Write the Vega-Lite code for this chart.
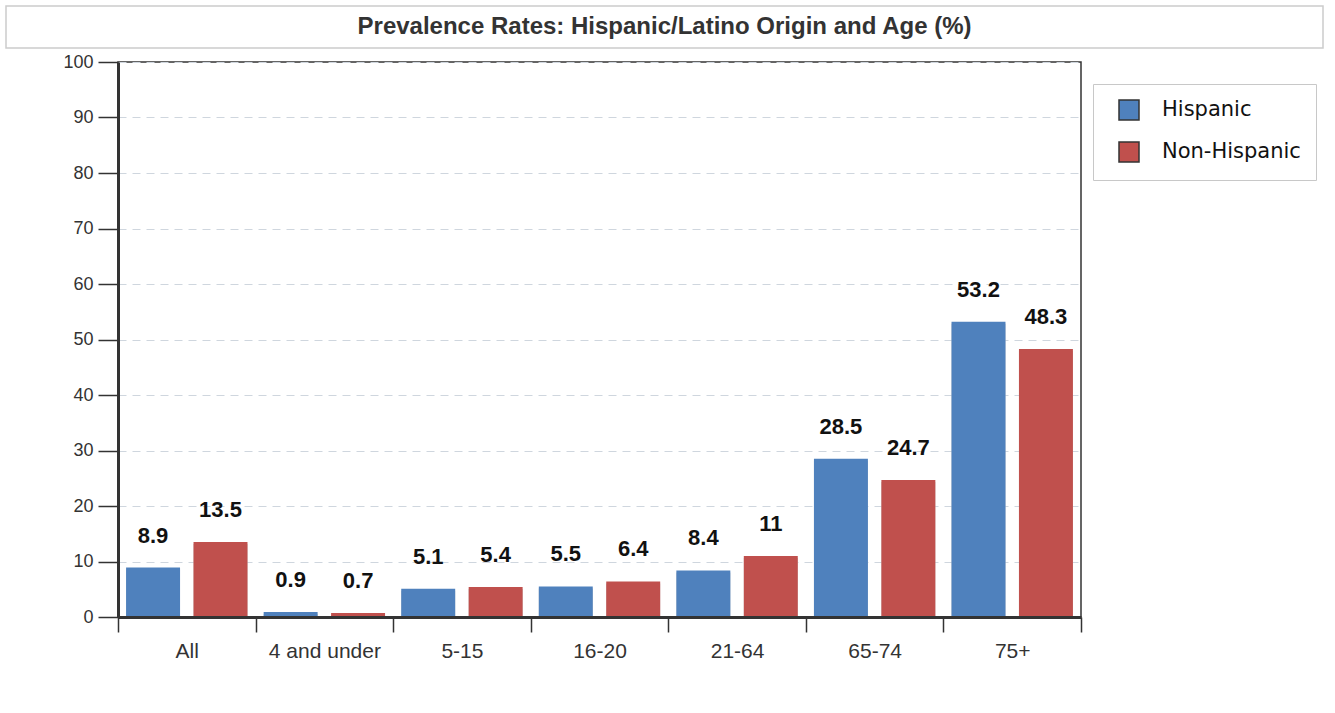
{
  "$schema": "https://vega.github.io/schema/vega-lite/v6.json",
  "padding": {"left": 5, "top": 5, "right": 0, "bottom": 0},
  "background": "white",
  "config": {
    "font": "Liberation Sans"
  },
  "spacing": 14,
  "bounds": "flush",
  "vconcat": [
    {
      "width": 1317,
      "height": 42,
      "data": {"values": [{"title": "Prevalence Rates: Hispanic/Latino Origin and Age (%)"}]},
      "view": {"stroke": "#cccccc", "strokeWidth": 1.5, "fill": "white"},
      "mark": {"type": "text", "font": "Liberation Sans", "fontWeight": "bold", "fontSize": 24, "color": "#333333", "align": "center", "baseline": "middle"},
      "encoding": {"text": {"field": "title"}}
    },
    {
      "spacing": 12,
      "bounds": "flush",
      "hconcat": [
        {
          "width": 100,
          "height": 10,
          "data": {"values": []},
          "view": {"stroke": null},
          "mark": {"type": "text"},
          "encoding": {}
        },
        {
          "width": 963,
          "height": 555,
          "data": {"values": [
            {"age": "All", "origin": "Hispanic", "rate": 8.9},
            {"age": "All", "origin": "Non-Hispanic", "rate": 13.5},
            {"age": "4 and under", "origin": "Hispanic", "rate": 0.9},
            {"age": "4 and under", "origin": "Non-Hispanic", "rate": 0.7},
            {"age": "5-15", "origin": "Hispanic", "rate": 5.1},
            {"age": "5-15", "origin": "Non-Hispanic", "rate": 5.4},
            {"age": "16-20", "origin": "Hispanic", "rate": 5.5},
            {"age": "16-20", "origin": "Non-Hispanic", "rate": 6.4},
            {"age": "21-64", "origin": "Hispanic", "rate": 8.4},
            {"age": "21-64", "origin": "Non-Hispanic", "rate": 11},
            {"age": "65-74", "origin": "Hispanic", "rate": 28.5},
            {"age": "65-74", "origin": "Non-Hispanic", "rate": 24.7},
            {"age": "75+", "origin": "Hispanic", "rate": 53.2},
            {"age": "75+", "origin": "Non-Hispanic", "rate": 48.3}
          ]},
          "view": {"stroke": "#333333", "strokeWidth": 1.5},
          "encoding": {
            "x": {
              "field": "age", "type": "nominal", "sort": null,
              "scale": {"paddingInner": 0, "paddingOuter": 0},
              "axis": {
                "title": null, "labelAngle": 0, "zindex": 1,
                "domainColor": "#333333", "domainWidth": 3,
                "tickBand": "extent", "tickColor": "#333333", "tickWidth": 1.5, "tickSize": 15,
                "labelFont": "Liberation Sans", "labelFontSize": 21, "labelColor": "#333333", "labelPadding": 8
              }
            },
            "xOffset": {"field": "origin", "type": "nominal", "scale": {"paddingInner": 0.2, "paddingOuter": 0.12}},
            "y": {
              "field": "rate", "type": "quantitative",
              "scale": {"domain": [0, 100], "nice": false},
              "axis": {
                "title": null, "values": [0, 10, 20, 30, 40, 50, 60, 70, 80, 90, 100],
                "domainColor": "#333333", "domainWidth": 3,
                "tickColor": "#333333", "tickWidth": 1.5, "tickSize": 20,
                "labelFont": "Liberation Sans", "labelFontSize": 18, "labelColor": "#333333", "labelPadding": 5,
                "grid": true, "gridColor": "#cfd6de", "gridDash": [8, 6], "gridWidth": 1
              }
            }
          },
          "layer": [
            {
              "mark": {"type": "bar", "color": "#c4c4c4", "xOffset": 3, "yOffset": 2}
            },
            {
              "mark": {"type": "bar"},
              "encoding": {
                "color": {
                  "field": "origin", "type": "nominal",
                  "scale": {"domain": ["Hispanic", "Non-Hispanic"], "range": ["#4f81bd", "#c0504d"]},
                  "legend": {
                    "title": null, "orient": "none", "legendX": 1087, "legendY": 78,
                    "strokeColor": "#c8c8c8", "fillColor": "white", "padding": 15,
                    "symbolType": "square", "symbolSize": 400, "symbolStrokeColor": "#333333", "symbolStrokeWidth": 1.5,
                    "symbolOffset": 10,
                    "labelFont": "DejaVu Sans", "labelFontSize": 21, "labelColor": "#111111", "labelOffset": 22,
                    "rowPadding": 16
                  }
                }
              }
            },
            {
              "mark": {"type": "text", "fontWeight": "bold", "fontSize": 22, "color": "#111111", "baseline": "alphabetic", "dy": -25},
              "encoding": {"text": {"field": "rate", "type": "quantitative"}}
            }
          ]
        }
      ]
    }
  ]
}
